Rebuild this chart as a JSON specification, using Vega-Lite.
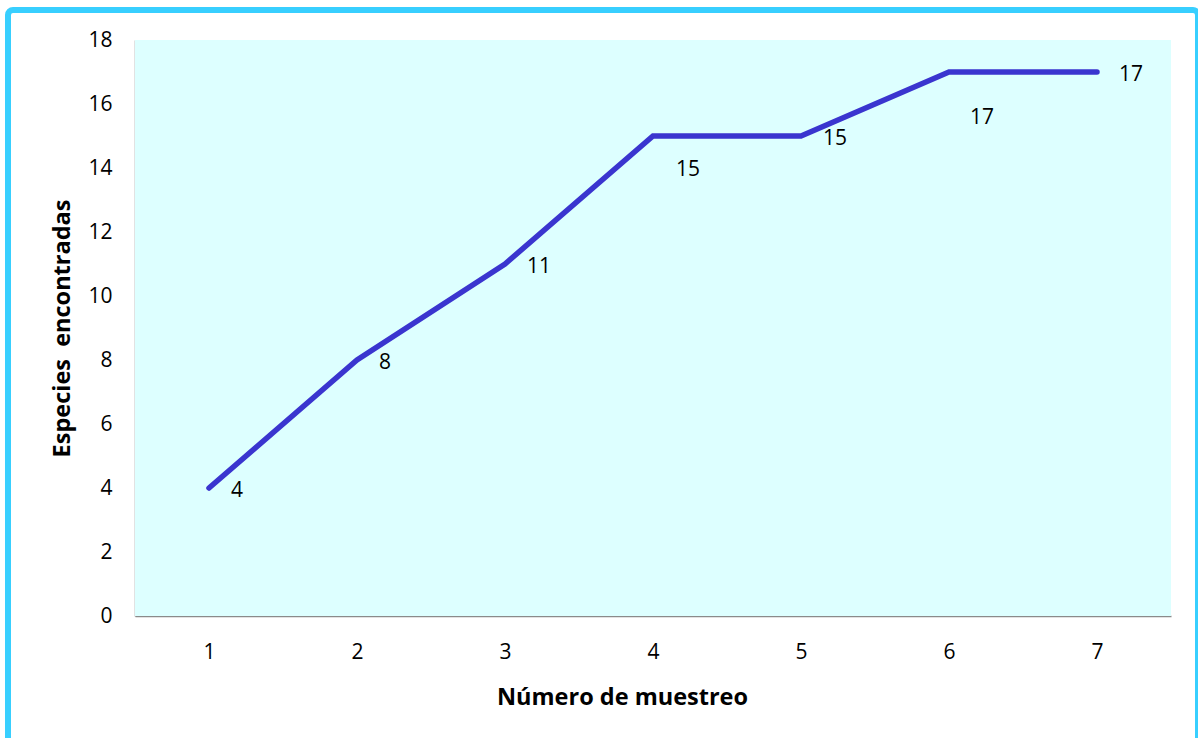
{
  "$schema": "https://vega.github.io/schema/vega-lite/v6.json",
  "width": 1190,
  "height": 735,
  "autosize": {"type": "none"},
  "padding": {"left": 8, "top": 10, "right": 0, "bottom": 0},
  "background": "#ffffff",
  "config": {
    "view": {"stroke": "#38CFFF", "strokeWidth": 6, "cornerRadius": 5, "fill": "#ffffff"},
    "font": "Open Sans"
  },
  "data": {"values": [
    {"muestreo": 1, "especies": 4},
    {"muestreo": 2, "especies": 8},
    {"muestreo": 3, "especies": 11},
    {"muestreo": 4, "especies": 15},
    {"muestreo": 5, "especies": 15},
    {"muestreo": 6, "especies": 17},
    {"muestreo": 7, "especies": 17}
  ]},
  "layer": [
    {
      "data": {"values": [{"area": "plot"}]},
      "mark": {"type": "rect", "color": "#DDFFFF"},
      "encoding": {
        "x": {
          "datum": 0.5, "type": "quantitative",
          "scale": {"domain": [0.5, 7.5], "range": [127, 1163], "nice": false, "zero": false},
          "axis": {
            "values": [1, 2, 3, 4, 5, 6, 7], "format": "d", "grid": false, "ticks": false,
            "offset": -129, "domainColor": "#8A8A8A", "domainWidth": 1.5,
            "labelFont": "Open Sans", "labelFontSize": 21, "labelColor": "#000000", "labelPadding": 25,
            "title": "Número de muestreo", "titleFont": "Open Sans", "titleFontSize": 23.5, "titleFontWeight": "bold",
            "titleColor": "#000000", "titleX": 614, "titleY": 81, "titleBaseline": "middle", "titleAlign": "center"
          }
        },
        "x2": {"datum": 7.5},
        "y": {
          "datum": 0, "type": "quantitative",
          "scale": {"domain": [0, 18], "range": [606, 30], "nice": false},
          "axis": {
            "values": [0, 2, 4, 6, 8, 10, 12, 14, 16, 18], "grid": false, "ticks": false,
            "offset": -127, "domainColor": "#8A8A8A", "domainWidth": 1.5,
            "labelFont": "Open Sans", "labelFontSize": 21, "labelColor": "#000000", "labelPadding": 23,
            "title": "Especies\u00a0 encontradas", "titleFont": "Open Sans", "titleFontSize": 23.5, "titleFontWeight": "bold",
            "titleColor": "#000000", "titleX": -73, "titleY": 318, "titleAngle": -90, "titleBaseline": "middle", "titleAlign": "center"
          }
        },
        "y2": {"datum": 18}
      }
    },
    {
      "mark": {"type": "line", "color": "#3A35CF", "strokeWidth": 5.5, "strokeCap": "round", "strokeJoin": "miter"},
      "encoding": {
        "x": {"field": "muestreo", "type": "quantitative"},
        "y": {"field": "especies", "type": "quantitative"}
      }
    },
    {
      "transform": [{"filter": "datum.muestreo != 4 && datum.muestreo != 6"}],
      "mark": {"type": "text", "align": "left", "baseline": "middle", "dx": 22, "dy": 3, "fontSize": 21, "font": "Open Sans", "color": "#000000"},
      "encoding": {
        "x": {"field": "muestreo", "type": "quantitative"},
        "y": {"field": "especies", "type": "quantitative"},
        "text": {"field": "especies", "type": "quantitative"}
      }
    },
    {
      "transform": [{"filter": "datum.muestreo == 4"}],
      "mark": {"type": "text", "align": "left", "baseline": "middle", "dx": 23, "dy": 34, "fontSize": 21, "font": "Open Sans", "color": "#000000"},
      "encoding": {
        "x": {"field": "muestreo", "type": "quantitative"},
        "y": {"field": "especies", "type": "quantitative"},
        "text": {"field": "especies", "type": "quantitative"}
      }
    },
    {
      "transform": [{"filter": "datum.muestreo == 6"}],
      "mark": {"type": "text", "align": "left", "baseline": "middle", "dx": 21, "dy": 46, "fontSize": 21, "font": "Open Sans", "color": "#000000"},
      "encoding": {
        "x": {"field": "muestreo", "type": "quantitative"},
        "y": {"field": "especies", "type": "quantitative"},
        "text": {"field": "especies", "type": "quantitative"}
      }
    }
  ]
}
